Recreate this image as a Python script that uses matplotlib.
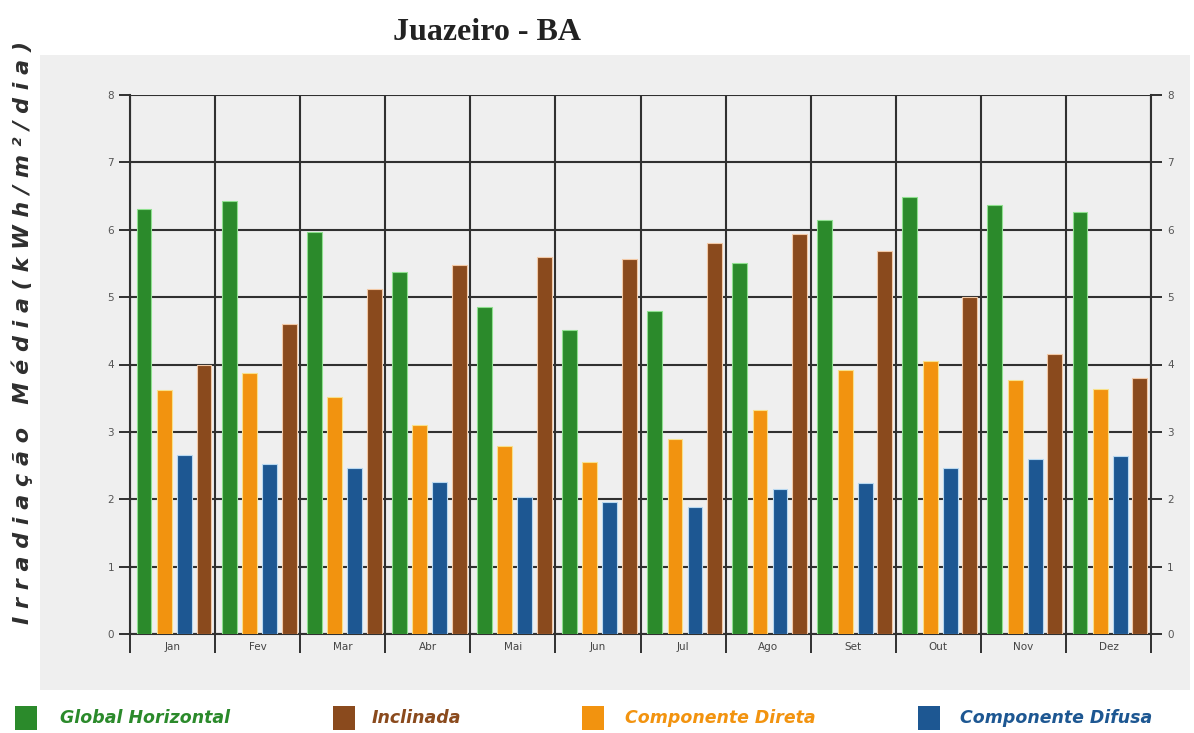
import matplotlib.pyplot as plt
from matplotlib.patches import Rectangle
import numpy as np

meses = ['Jan', 'Fev', 'Mar', 'Abr', 'Mai', 'Jun', 'Jul', 'Ago', 'Set', 'Out', 'Nov', 'Dez']
global_horizontal = [6.31, 6.42, 5.97, 5.37, 4.86, 4.51, 4.79, 5.50, 6.15, 6.49, 6.37, 6.27]
componente_direta = [3.62, 3.87, 3.52, 3.10, 2.79, 2.55, 2.90, 3.33, 3.92, 4.05, 3.77, 3.63]
componente_difusa = [2.66, 2.52, 2.46, 2.26, 2.04, 1.96, 1.89, 2.15, 2.24, 2.46, 2.59, 2.64]
inclinada = [4.00, 4.60, 5.12, 5.48, 5.60, 5.57, 5.80, 5.94, 5.68, 5.00, 4.16, 3.80]

verde = '#2b8a2b'
laranja = '#f2930f'
azul = '#1d5792'
marrom = '#8a4a1d'
cinza_fundo = '#efefef'
cor_grade = '#303030'

fig = plt.figure(figsize=(11.94, 7.33), dpi=100)
W, H = 1194, 733

# painel cinza atras do grafico
fig.patches.append(Rectangle((40 / W, 1 - 690 / H), 1150 / W, 635 / H,
                             transform=fig.transFigure, facecolor=cinza_fundo,
                             edgecolor='none', zorder=-5))

ax = fig.add_axes([130 / W, 1 - 634 / H, 1021 / W, 539 / H])
ax.set_facecolor(cinza_fundo)

x = np.arange(len(meses))
largura = 0.175
series = [(global_horizontal, verde, '#8fe08f', 0.165),
          (componente_direta, laranja, '#f8e08a', 0.405),
          (componente_difusa, azul, '#b8d8f0', 0.64),
          (inclinada, marrom, '#f2c9a6', 0.87)]
for valores, cor, borda, desloc in series:
    ax.bar(x + desloc, valores, largura, color=cor, edgecolor=borda,
           linewidth=0.8, zorder=3)

ax.set_xlim(0, 12)
ax.set_ylim(0, 8)
ax.set_axisbelow(True)

ax.set_xticks(np.arange(13))
ax.set_xticklabels([])
ax.set_xticks(x + 0.5, minor=True)
ax.set_xticklabels(meses, minor=True, fontsize=7.5, color='#444444')
ax.tick_params(axis='x', which='major', length=14, width=1.4, color=cor_grade)
ax.tick_params(axis='x', which='minor', length=0, pad=6)

ax.set_yticks(range(9))
ax.tick_params(axis='y', which='major', length=8, width=1.4, color=cor_grade,
               labelsize=7.5, labelcolor='#555555', left=True, right=True,
               labelleft=True, labelright=True)

ax.grid(True, which='major', color=cor_grade, linewidth=1.5)
for lado in ['left', 'right', 'bottom']:
    ax.spines[lado].set_color(cor_grade)
    ax.spines[lado].set_linewidth(1.5)
ax.spines['top'].set_visible(False)

fig.text(487 / W, 1 - 32 / H, 'Juazeiro - BA', ha='center', va='center',
         fontsize=23, fontweight='bold', family='Liberation Serif', color='#222222')

rotulo_y = ' '.join('Irradiação') + '   ' + ' '.join('Média(kWh/m²/dia)')
fig.text(22 / W, 1 - 332 / H, rotulo_y, rotation=90, ha='center', va='center',
         fontsize=16, fontweight='bold', fontstyle='italic', color='#2e2e2e')

# legenda na parte de baixo
legenda = [('Global Horizontal', verde, 15, 60),
           ('Inclinada', marrom, 333, 372),
           ('Componente Direta', laranja, 582, 625),
           ('Componente Difusa', azul, 918, 960)]
for nome, cor, xq, xt in legenda:
    fig.patches.append(Rectangle((xq / W, 1 - 730 / H), 22 / W, 24 / H,
                                 transform=fig.transFigure, facecolor=cor,
                                 edgecolor='none'))
    fig.text(xt / W, 1 - 718 / H, nome, ha='left', va='center', fontsize=12.5,
             fontweight='heavy', fontstyle='italic', color=cor)

fig.savefig('out.png', dpi=100)
